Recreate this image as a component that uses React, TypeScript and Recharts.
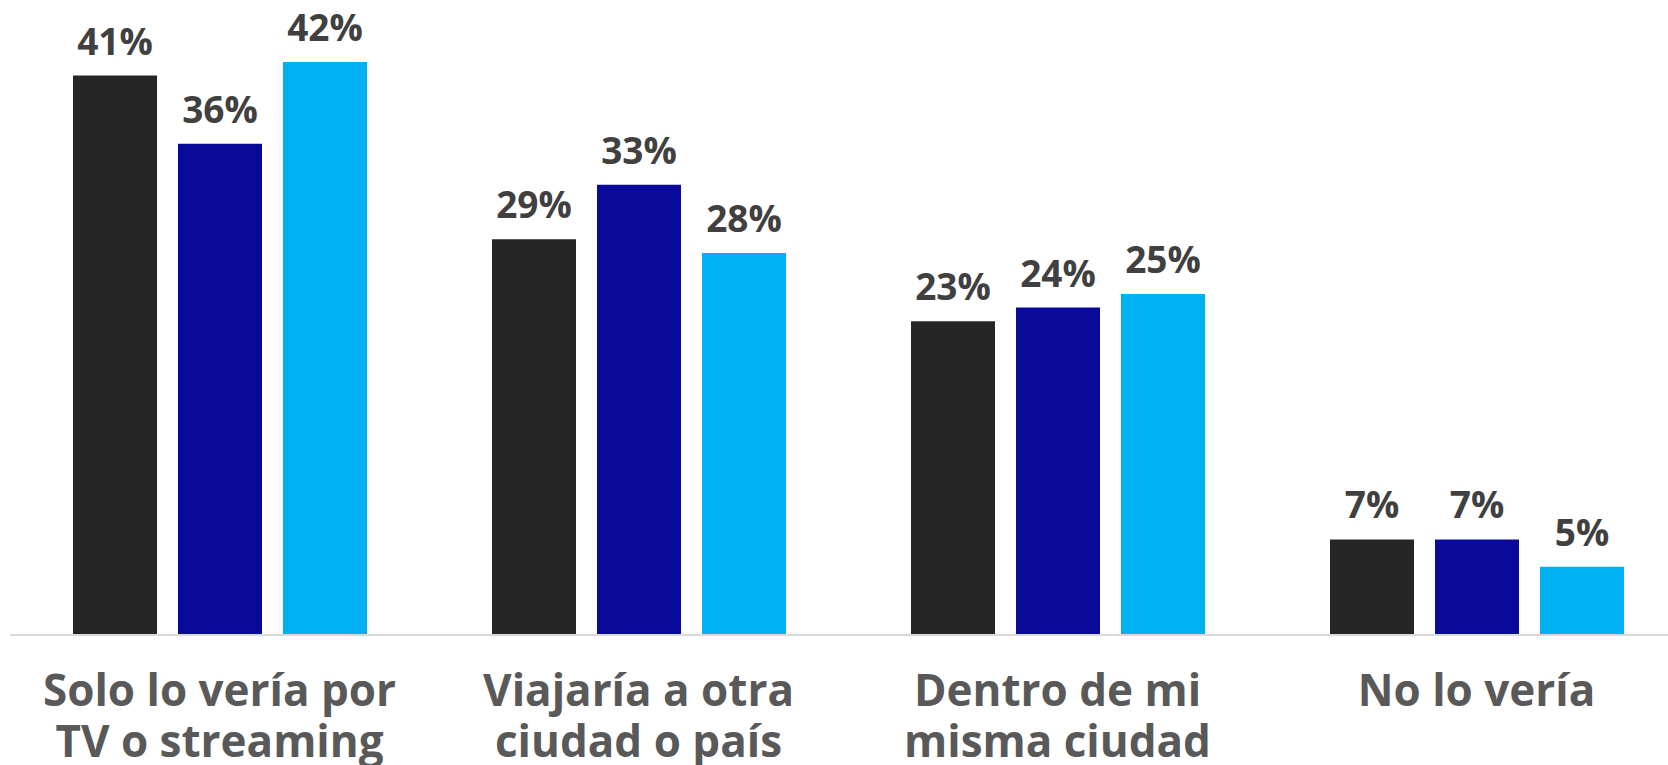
import { Bar, BarChart, LabelList, XAxis, YAxis } from 'recharts';

const CATEGORIES = [
  'Solo lo vería por TV o streaming',
  'Viajaría a otra ciudad o país',
  'Dentro de mi misma ciudad',
  'No lo vería',
];

const TICK_LINES: string[][] = [
  ['Solo lo vería por', 'TV o streaming'],
  ['Viajaría a otra', 'ciudad o país'],
  ['Dentro de mi', 'misma ciudad'],
  ['No lo vería'],
];

const SERIES_A = [41, 29, 23, 7];
const SERIES_B = [36, 33, 24, 7];
const SERIES_C = [42, 28, 25, 5];

const COLORS = ['#262626', '#0a0a9a', '#00b0f0'];

const FONT = '"Open Sans", "Noto Sans", sans-serif';

const data = CATEGORIES.map((name, i) => ({
  name,
  a: SERIES_A[i],
  b: SERIES_B[i],
  c: SERIES_C[i],
}));

function CategoryTick(props: any) {
  const { x, y, payload } = props;
  const idx = CATEGORIES.indexOf(payload.value);
  const lines = TICK_LINES[idx] ?? [payload.value];
  return (
    <g>
      {lines.map((line, i) => (
        <text
          key={line}
          x={x}
          y={y + 71 + i * 51}
          textAnchor="middle"
          fill="#595959"
          fontFamily={FONT}
          fontWeight={700}
          fontSize={44}
        >
          {line}
        </text>
      ))}
    </g>
  );
}

const labelStyle = {
  fill: '#404040',
  fontSize: 37,
  fontWeight: 700,
  fontFamily: FONT,
};

export default function App() {
  return (
    <div
      style={{
        position: 'absolute',
        left: 0,
        top: 0,
        width: 1668,
        height: 765,
        overflow: 'hidden',
        background: '#fff',
      }}
    >
      <BarChart
        width={1700}
        height={765}
        data={data}
        margin={{ top: 21, right: 14, left: 10, bottom: 0 }}
        barCategoryGap={63}
        barGap={21}
      >
        <XAxis
          dataKey="name"
          height={130}
          interval={0}
          tickLine={false}
          tickSize={0}
          tickMargin={0}
          axisLine={{ stroke: '#d9d9d9', strokeWidth: 2 }}
          tick={<CategoryTick />}
        />
        <YAxis hide domain={[0, 45]} />
        {(['a', 'b', 'c'] as const).map((key, i) => (
          <Bar key={key} dataKey={key} fill={COLORS[i]} isAnimationActive={false}>
            <LabelList
              dataKey={key}
              position="top"
              offset={21}
              formatter={(v: any) => `${v}%`}
              style={labelStyle}
            />
          </Bar>
        ))}
      </BarChart>
    </div>
  );
}
